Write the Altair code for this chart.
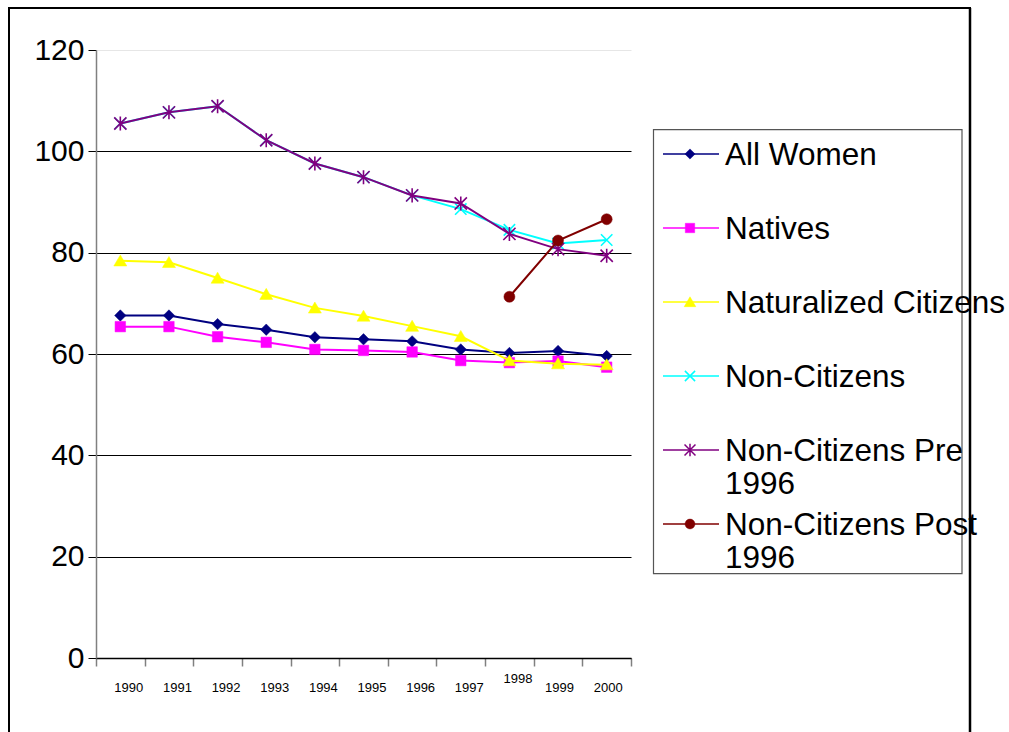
import altair as alt
import pandas as pd

# ---------------- data ----------------
years = ["1990", "1991", "1992", "1993", "1994", "1995", "1996", "1997", "1998", "1999", "2000"]
series_names = ["All Women", "Natives", "Naturalized Citizens", "Non-Citizens",
                "Non-Citizens Pre 1996", "Non-Citizens Post 1996"]
legend_labels = ["All Women", "Natives", "Naturalized Citizens", "Non-Citizens",
                 "Non-Citizens Pre\n1996", "Non-Citizens Post\n1996"]

all_women = [67.6, 67.6, 65.9, 64.8, 63.3, 62.9, 62.5, 60.9, 60.2, 60.6, 59.6]
natives = [65.4, 65.4, 63.4, 62.3, 60.9, 60.7, 60.4, 58.7, 58.3, 58.6, 57.4]
naturalized = [78.4, 78.1, 75.0, 71.8, 69.1, 67.5, 65.5, 63.5, 58.7, 58.1, 57.9]
non_citizens = [105.5, 107.7, 108.9, 102.2, 97.6, 94.9, 91.3, 88.6, 84.5, 81.8, 82.5]
non_cit_pre_1996 = [105.5, 107.7, 108.9, 102.2, 97.6, 94.9, 91.3, 89.7, 83.7, 80.7, 79.4]
non_cit_post_1996 = [None, None, None, None, None, None, None, None, 71.3, 82.4, 86.6]

y_ticks = [0, 20, 40, 60, 80, 100, 120]

series_colors = ["#000080", "#FF00FF", "#FFFF00", "#00FFFF", "#800080", "#800000"]
# marker: (shape, size, filled)
markers = [
    ("diamond", 130, True),
    ("square", 110, True),
    ("M0,-0.9L1,0.8L-1,0.8Z", 169, True),
    ("M-1,-1L1,1M-1,1L1,-1", 130, False),
    ("M-1,-1L1,1M-1,1L1,-1M0,-1.15L0,1.15", 150, False),
    ("circle", 121, True),
]

all_values = [all_women, natives, naturalized, non_citizens, non_cit_pre_1996, non_cit_post_1996]
rows = []
for name, vals in zip(series_names, all_values):
    for yr, v in zip(years, vals):
        if v is not None:
            rows.append({"year": yr, "series": name, "value": v})
df = pd.DataFrame(rows)

FONT = "Liberation Sans"
W, H = 535, 608

x_axis = alt.Axis(
    title=None, labelAngle=0, grid=False, tickBand="extent",
    domainColor="black", domainWidth=1.5, tickColor="#808080", tickSize=8, tickWidth=1.5,
    labelFont=FONT, labelFontSize=13, labelColor="black",
    labelPadding={"condition": {"test": "datum.label == '1998'", "value": 6}, "value": 15},
    labelOffset={"condition": {"test": "datum.label == '1999' || datum.label == '2000'", "value": 1}, "value": 8},
)
y_axis = alt.Axis(
    title=None, values=y_ticks, labelFont=FONT, labelFontSize=30, labelColor="black",
    labelPadding=4, tickSize=8, tickColor="black", domainColor="#808080", domainWidth=1.5,
    gridColor={"condition": {"test": "datum.value == 120", "value": "#e6e6e6"}, "value": "black"},
    gridWidth=1, labelOverlap=False, labelFlush=False,
)
x_enc = alt.X("year:O", sort=years,
              scale=alt.Scale(type="band", paddingInner=0, paddingOuter=0), axis=x_axis)
y_enc = alt.Y("value:Q", scale=alt.Scale(domain=[0, 120], nice=False), axis=y_axis)

layers = []
for name, color, (shape, size, filled) in zip(series_names, series_colors, markers):
    base = alt.Chart(df).transform_filter(alt.datum.series == name)
    layers.append(base.mark_line(color=color, strokeWidth=2).encode(x=x_enc, y=y_enc))
    pt = dict(shape=shape, size=size, strokeWidth=1.6, opacity=1)
    if filled:
        pt.update(filled=True, fill=color, stroke=color, strokeWidth=0.5)
    else:
        pt.update(filled=False, stroke=color)
    layers.append(base.mark_point(**pt).encode(x=x_enc, y=y_enc))

# ---------------- decorations: outer frame and legend ----------------
one = pd.DataFrame({"a": [0]})
frame_col = "black"
layers.append(alt.Chart(one).mark_rule(color=frame_col, strokeWidth=2).encode(
    x=alt.value(-87), y=alt.value(-42), y2=alt.value(683)))
layers.append(alt.Chart(one).mark_rule(color=frame_col, strokeWidth=2).encode(
    x=alt.value(-88), x2=alt.value(875), y=alt.value(-42)))
layers.append(alt.Chart(one).mark_rule(color=frame_col, strokeWidth=2.5).encode(
    x=alt.value(874), y=alt.value(-42), y2=alt.value(683)))

layers.append(alt.Chart(one).mark_rect(fillOpacity=0, stroke="#555555", strokeWidth=1.2).encode(
    x=alt.value(557.5), x2=alt.value(866), y=alt.value(79.7), y2=alt.value(523.7)))

for i, (label, color, (shape, size, filled)) in enumerate(zip(legend_labels, series_colors, markers)):
    ly = 104 + 74 * i
    layers.append(alt.Chart(one).mark_rule(color=color, strokeWidth=1.5).encode(
        x=alt.value(567), x2=alt.value(623), y=alt.value(ly)))
    pt = dict(shape=shape, size=size * 0.8, strokeWidth=1.5, opacity=1)
    if filled:
        pt.update(filled=True, fill=color, stroke=color, strokeWidth=0.5)
    else:
        pt.update(filled=False, stroke=color)
    layers.append(alt.Chart(one).mark_point(**pt).encode(x=alt.value(594), y=alt.value(ly)))
    layers.append(alt.Chart(one).mark_text(
        text=label, lineBreak="\n", lineHeight=33, align="left", baseline="top",
        font=FONT, fontSize=31.5, color="black").encode(x=alt.value(629), y=alt.value(ly - 14)))

chart = alt.layer(*layers).properties(
    width=W, height=H,
    padding={"left": 7, "top": 6, "right": 0, "bottom": 0},
    background="white",
).configure_view(stroke=None)

chart.save("out.html", embed_options={"renderer": "svg", "actions": False})
